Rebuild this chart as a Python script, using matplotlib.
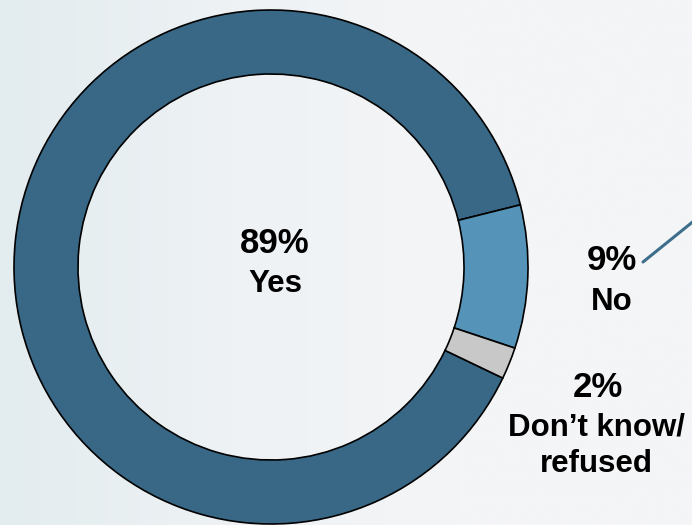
import numpy as np
import matplotlib
matplotlib.use("Agg")
import matplotlib.pyplot as plt
from matplotlib.colors import LinearSegmentedColormap

plt.rcParams['font.family'] = ['Liberation Sans', 'DejaVu Sans']

categories = ["Yes", "No", "Don\u2019t know/\nrefused"]
shares = [89, 9, 2]
colors = ["#386886", "#5594b8", "#c8c8c8"]

W, H = 692, 525
fig = plt.figure(figsize=(W / 100, H / 100), dpi=100)

# soft background gradient, bluish on the left
bg = fig.add_axes([0, 0, 1, 1])
bg.axis("off")
cmap = LinearSegmentedColormap.from_list("bg", ["#e3ecef", "#eef2f4", "#f4f5f7", "#f4f5f7"])
grad = np.linspace(0, 1, 256)[None, :]
bg.imshow(grad, aspect="auto", cmap=cmap, extent=[0, 1, 0, 1])

ax = fig.add_axes([0, 0, 1, 1])
ax.patch.set_alpha(0)

cx, cy = 271, H - 267
R = 257
ax.pie(shares, colors=colors, startangle=-25.6, counterclock=False,
       center=(cx, cy), radius=R,
       wedgeprops=dict(width=64, edgecolor="black", linewidth=1.2))
ax.set_xlim(0, W)
ax.set_ylim(0, H)
ax.set_aspect("equal")
ax.axis("off")

pct_size = 25
word_size = 22.5

# centre label
ax.text(275, H - 253, f"{shares[0]}%", ha="center", va="baseline", fontsize=pct_size, fontweight="bold")
ax.text(275, H - 292, categories[0], ha="center", va="baseline", fontsize=word_size, fontweight="bold")

# right-hand labels
ax.text(612, H - 270, f"{shares[1]}%", ha="center", va="baseline", fontsize=pct_size, fontweight="bold")
ax.text(612, H - 310, categories[1], ha="center", va="baseline", fontsize=word_size, fontweight="bold")
ax.text(598, H - 397, f"{shares[2]}%", ha="center", va="baseline", fontsize=pct_size, fontweight="bold")
line1, line2 = categories[2].split("\n")
ax.text(596, H - 435, line1, ha="center", va="baseline", fontsize=word_size, fontweight="bold")
ax.text(596, H - 472, line2, ha="center", va="baseline", fontsize=word_size, fontweight="bold")

# leader line from the "9%" label
ax.plot([643, 700], [H - 262, H - 216], color="#3d6e8c", linewidth=2.2, solid_capstyle="round",
        clip_on=False)

fig.savefig("out.png", dpi=100)
